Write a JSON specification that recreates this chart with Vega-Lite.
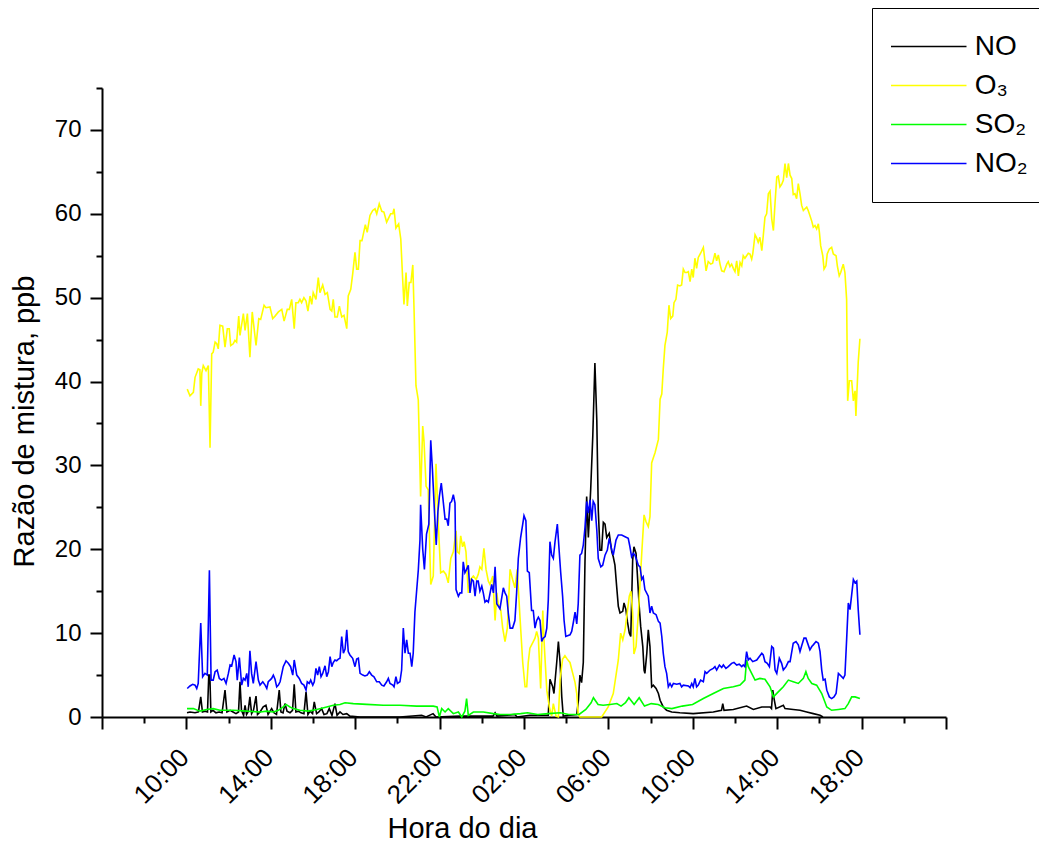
{
"$schema":"https://vega.github.io/schema/vega-lite/v6.json",
"width":844,"height":629,
"autosize":{"type":"none"},
"padding":{"left":102,"top":88,"right":93,"bottom":127},
"background":"white",
"config":{"view":{"stroke":null},"font":"Liberation Sans",
"axis":{"grid":false,"domainColor":"#000","domainWidth":2,"tickColor":"#000","tickWidth":2,"labelColor":"#000","titleColor":"#000","labelFont":"Liberation Sans","titleFont":"Liberation Sans","titleFontWeight":"normal","labelFontSize":24,"titleFontSize":29}},
"data":{"values":[
{"s":"NO","t":10.03,"v":0.5},{"s":"NO","t":10.17,"v":0.6},{"s":"NO","t":10.41,"v":0.5},{"s":"NO","t":10.57,"v":0.6},{"s":"NO","t":10.68,"v":2.4},{"s":"NO","t":10.76,"v":0.6},{"s":"NO","t":10.88,"v":0.7},{"s":"NO","t":11.0,"v":0.6},{"s":"NO","t":11.06,"v":5.0},{"s":"NO","t":11.11,"v":5.0},{"s":"NO","t":11.16,"v":0.6},{"s":"NO","t":11.26,"v":0.8},{"s":"NO","t":11.4,"v":0.5},{"s":"NO","t":11.55,"v":0.6},{"s":"NO","t":11.69,"v":0.5},{"s":"NO","t":11.83,"v":3.2},{"s":"NO","t":11.92,"v":0.6},{"s":"NO","t":12.07,"v":0.8},{"s":"NO","t":12.21,"v":0.6},{"s":"NO","t":12.35,"v":0.4},{"s":"NO","t":12.47,"v":0.6},{"s":"NO","t":12.54,"v":4.2},{"s":"NO","t":12.61,"v":0.8},{"s":"NO","t":12.71,"v":0.2},{"s":"NO","t":12.78,"v":1.4},{"s":"NO","t":12.85,"v":0.3},{"s":"NO","t":12.92,"v":0.6},{"s":"NO","t":13.01,"v":2.4},{"s":"NO","t":13.09,"v":0.4},{"s":"NO","t":13.18,"v":0.8},{"s":"NO","t":13.3,"v":2.5},{"s":"NO","t":13.37,"v":0.3},{"s":"NO","t":13.49,"v":0.6},{"s":"NO","t":13.64,"v":1.2},{"s":"NO","t":13.77,"v":1.4},{"s":"NO","t":13.87,"v":0.3},{"s":"NO","t":14.04,"v":1.0},{"s":"NO","t":14.15,"v":0.5},{"s":"NO","t":14.27,"v":0.3},{"s":"NO","t":14.4,"v":3.2},{"s":"NO","t":14.48,"v":0.6},{"s":"NO","t":14.58,"v":0.5},{"s":"NO","t":14.67,"v":1.6},{"s":"NO","t":14.77,"v":0.7},{"s":"NO","t":14.91,"v":0.5},{"s":"NO","t":15.03,"v":0.8},{"s":"NO","t":15.11,"v":3.9},{"s":"NO","t":15.19,"v":0.6},{"s":"NO","t":15.31,"v":0.7},{"s":"NO","t":15.43,"v":0.5},{"s":"NO","t":15.57,"v":0.4},{"s":"NO","t":15.67,"v":3.0},{"s":"NO","t":15.76,"v":0.3},{"s":"NO","t":15.86,"v":0.7},{"s":"NO","t":15.98,"v":0.4},{"s":"NO","t":16.06,"v":1.8},{"s":"NO","t":16.17,"v":0.4},{"s":"NO","t":16.28,"v":0.6},{"s":"NO","t":16.41,"v":1.0},{"s":"NO","t":16.52,"v":0.3},{"s":"NO","t":16.66,"v":0.4},{"s":"NO","t":16.77,"v":1.0},{"s":"NO","t":16.9,"v":0.2},{"s":"NO","t":17.04,"v":1.6},{"s":"NO","t":17.14,"v":0.2},{"s":"NO","t":17.28,"v":0.6},{"s":"NO","t":17.42,"v":0.3},{"s":"NO","t":17.6,"v":0.4},{"s":"NO","t":17.75,"v":0.1},{"s":"NO","t":18.23,"v":0.0},{"s":"NO","t":20.12,"v":0.0},{"s":"NO","t":21.15,"v":0.2},{"s":"NO","t":21.36,"v":0.0},{"s":"NO","t":21.69,"v":0.4},{"s":"NO","t":21.83,"v":0.0},{"s":"NO","t":22.97,"v":0.1},{"s":"NO","t":24.53,"v":0.1},{"s":"NO","t":24.63,"v":0.5},{"s":"NO","t":24.72,"v":0.1},{"s":"NO","t":25.57,"v":0.3},{"s":"NO","t":25.67,"v":0.0},{"s":"NO","t":26.28,"v":0.2},{"s":"NO","t":27.0,"v":0.2},{"s":"NO","t":27.15,"v":0.2},{"s":"NO","t":27.23,"v":4.5},{"s":"NO","t":27.36,"v":3.6},{"s":"NO","t":27.42,"v":2.8},{"s":"NO","t":27.55,"v":6.5},{"s":"NO","t":27.63,"v":9.0},{"s":"NO","t":27.71,"v":6.5},{"s":"NO","t":27.79,"v":2.4},{"s":"NO","t":27.86,"v":0.1},{"s":"NO","t":28.18,"v":0.2},{"s":"NO","t":28.5,"v":0.3},{"s":"NO","t":28.58,"v":2.0},{"s":"NO","t":28.65,"v":5.0},{"s":"NO","t":28.73,"v":4.1},{"s":"NO","t":28.81,"v":6.5},{"s":"NO","t":28.89,"v":18.5},{"s":"NO","t":28.97,"v":26.3},{"s":"NO","t":29.05,"v":21.4},{"s":"NO","t":29.16,"v":27.1},{"s":"NO","t":29.26,"v":33.5},{"s":"NO","t":29.36,"v":42.2},{"s":"NO","t":29.45,"v":35.4},{"s":"NO","t":29.52,"v":24.7},{"s":"NO","t":29.6,"v":19.9},{"s":"NO","t":29.68,"v":19.9},{"s":"NO","t":29.76,"v":23.2},{"s":"NO","t":29.84,"v":23.0},{"s":"NO","t":29.92,"v":21.4},{"s":"NO","t":30.04,"v":21.9},{"s":"NO","t":30.16,"v":19.7},{"s":"NO","t":30.23,"v":19.1},{"s":"NO","t":30.31,"v":18.1},{"s":"NO","t":30.39,"v":15.6},{"s":"NO","t":30.47,"v":13.2},{"s":"NO","t":30.55,"v":12.4},{"s":"NO","t":30.68,"v":12.6},{"s":"NO","t":30.74,"v":13.6},{"s":"NO","t":30.83,"v":12.8},{"s":"NO","t":30.9,"v":11.4},{"s":"NO","t":30.99,"v":10.0},{"s":"NO","t":31.06,"v":9.6},{"s":"NO","t":31.15,"v":18.7},{"s":"NO","t":31.21,"v":20.3},{"s":"NO","t":31.31,"v":19.5},{"s":"NO","t":31.37,"v":17.1},{"s":"NO","t":31.46,"v":13.2},{"s":"NO","t":31.53,"v":10.8},{"s":"NO","t":31.63,"v":8.4},{"s":"NO","t":31.69,"v":5.6},{"s":"NO","t":31.73,"v":5.2},{"s":"NO","t":31.82,"v":7.6},{"s":"NO","t":31.89,"v":10.4},{"s":"NO","t":31.97,"v":8.4},{"s":"NO","t":32.05,"v":3.6},{"s":"NO","t":32.13,"v":3.8},{"s":"NO","t":32.26,"v":3.4},{"s":"NO","t":32.37,"v":2.8},{"s":"NO","t":32.45,"v":2.0},{"s":"NO","t":32.6,"v":1.2},{"s":"NO","t":32.76,"v":0.8},{"s":"NO","t":33.0,"v":0.6},{"s":"NO","t":33.39,"v":0.5},{"s":"NO","t":34.02,"v":0.4},{"s":"NO","t":34.97,"v":0.6},{"s":"NO","t":35.36,"v":0.8},{"s":"NO","t":35.42,"v":1.6},{"s":"NO","t":35.48,"v":0.8},{"s":"NO","t":35.92,"v":0.9},{"s":"NO","t":36.55,"v":1.3},{"s":"NO","t":36.87,"v":0.9},{"s":"NO","t":37.27,"v":1.2},{"s":"NO","t":37.66,"v":1.2},{"s":"NO","t":37.73,"v":1.0},{"s":"NO","t":37.79,"v":3.2},{"s":"NO","t":37.85,"v":2.2},{"s":"NO","t":37.94,"v":1.0},{"s":"NO","t":38.29,"v":1.4},{"s":"NO","t":38.37,"v":1.0},{"s":"NO","t":38.76,"v":0.9},{"s":"NO","t":39.08,"v":0.8},{"s":"NO","t":39.4,"v":0.6},{"s":"NO","t":39.71,"v":0.4},{"s":"NO","t":40.03,"v":0.2},{"s":"NO","t":40.17,"v":0.0},
{"s":"O₃","t":10.04,"v":39.1},{"s":"O₃","t":10.17,"v":38.3},{"s":"O₃","t":10.33,"v":38.7},{"s":"O₃","t":10.41,"v":40.5},{"s":"O₃","t":10.56,"v":41.5},{"s":"O₃","t":10.64,"v":41.4},{"s":"O₃","t":10.68,"v":37.1},{"s":"O₃","t":10.73,"v":41.0},{"s":"O₃","t":10.8,"v":41.9},{"s":"O₃","t":10.93,"v":41.3},{"s":"O₃","t":11.04,"v":41.9},{"s":"O₃","t":11.12,"v":32.1},{"s":"O₃","t":11.2,"v":43.3},{"s":"O₃","t":11.27,"v":43.5},{"s":"O₃","t":11.36,"v":44.7},{"s":"O₃","t":11.44,"v":44.5},{"s":"O₃","t":11.51,"v":43.9},{"s":"O₃","t":11.59,"v":46.7},{"s":"O₃","t":11.72,"v":46.6},{"s":"O₃","t":11.83,"v":44.1},{"s":"O₃","t":11.94,"v":46.3},{"s":"O₃","t":12.03,"v":46.3},{"s":"O₃","t":12.1,"v":44.3},{"s":"O₃","t":12.22,"v":44.5},{"s":"O₃","t":12.3,"v":44.9},{"s":"O₃","t":12.38,"v":44.7},{"s":"O₃","t":12.48,"v":47.8},{"s":"O₃","t":12.54,"v":45.5},{"s":"O₃","t":12.7,"v":48.1},{"s":"O₃","t":12.78,"v":46.1},{"s":"O₃","t":12.89,"v":48.1},{"s":"O₃","t":13.01,"v":42.9},{"s":"O₃","t":13.12,"v":48.3},{"s":"O₃","t":13.3,"v":44.3},{"s":"O₃","t":13.43,"v":47.5},{"s":"O₃","t":13.52,"v":47.4},{"s":"O₃","t":13.68,"v":49.1},{"s":"O₃","t":13.77,"v":48.8},{"s":"O₃","t":13.96,"v":48.9},{"s":"O₃","t":14.09,"v":47.5},{"s":"O₃","t":14.2,"v":47.8},{"s":"O₃","t":14.36,"v":48.3},{"s":"O₃","t":14.52,"v":48.6},{"s":"O₃","t":14.63,"v":47.2},{"s":"O₃","t":14.78,"v":48.6},{"s":"O₃","t":14.88,"v":48.6},{"s":"O₃","t":14.99,"v":49.8},{"s":"O₃","t":15.11,"v":46.3},{"s":"O₃","t":15.19,"v":49.4},{"s":"O₃","t":15.3,"v":49.4},{"s":"O₃","t":15.38,"v":49.8},{"s":"O₃","t":15.46,"v":49.4},{"s":"O₃","t":15.57,"v":50.0},{"s":"O₃","t":15.67,"v":49.6},{"s":"O₃","t":15.76,"v":48.4},{"s":"O₃","t":15.86,"v":50.2},{"s":"O₃","t":15.94,"v":49.2},{"s":"O₃","t":16.01,"v":50.6},{"s":"O₃","t":16.14,"v":49.8},{"s":"O₃","t":16.25,"v":52.4},{"s":"O₃","t":16.33,"v":50.6},{"s":"O₃","t":16.46,"v":51.5},{"s":"O₃","t":16.57,"v":50.4},{"s":"O₃","t":16.68,"v":50.6},{"s":"O₃","t":16.81,"v":48.6},{"s":"O₃","t":16.89,"v":48.4},{"s":"O₃","t":16.96,"v":49.8},{"s":"O₃","t":17.04,"v":47.7},{"s":"O₃","t":17.15,"v":47.7},{"s":"O₃","t":17.25,"v":49.0},{"s":"O₃","t":17.36,"v":47.7},{"s":"O₃","t":17.47,"v":47.9},{"s":"O₃","t":17.6,"v":46.3},{"s":"O₃","t":17.67,"v":50.2},{"s":"O₃","t":17.79,"v":51.0},{"s":"O₃","t":17.88,"v":52.8},{"s":"O₃","t":17.99,"v":55.4},{"s":"O₃","t":18.07,"v":53.4},{"s":"O₃","t":18.15,"v":53.4},{"s":"O₃","t":18.23,"v":56.8},{"s":"O₃","t":18.32,"v":56.8},{"s":"O₃","t":18.42,"v":58.0},{"s":"O₃","t":18.48,"v":58.7},{"s":"O₃","t":18.57,"v":57.8},{"s":"O₃","t":18.7,"v":59.8},{"s":"O₃","t":18.83,"v":60.4},{"s":"O₃","t":18.94,"v":60.6},{"s":"O₃","t":19.02,"v":60.0},{"s":"O₃","t":19.14,"v":61.2},{"s":"O₃","t":19.26,"v":60.3},{"s":"O₃","t":19.36,"v":60.2},{"s":"O₃","t":19.49,"v":59.0},{"s":"O₃","t":19.68,"v":60.0},{"s":"O₃","t":19.78,"v":60.0},{"s":"O₃","t":19.84,"v":60.6},{"s":"O₃","t":19.93,"v":58.3},{"s":"O₃","t":20.06,"v":58.8},{"s":"O₃","t":20.16,"v":57.0},{"s":"O₃","t":20.25,"v":52.2},{"s":"O₃","t":20.31,"v":49.2},{"s":"O₃","t":20.41,"v":53.0},{"s":"O₃","t":20.47,"v":49.0},{"s":"O₃","t":20.56,"v":51.8},{"s":"O₃","t":20.64,"v":51.8},{"s":"O₃","t":20.73,"v":53.9},{"s":"O₃","t":20.79,"v":48.5},{"s":"O₃","t":20.88,"v":39.5},{"s":"O₃","t":20.99,"v":37.8},{"s":"O₃","t":21.1,"v":26.3},{"s":"O₃","t":21.2,"v":34.7},{"s":"O₃","t":21.26,"v":32.9},{"s":"O₃","t":21.36,"v":27.5},{"s":"O₃","t":21.46,"v":27.1},{"s":"O₃","t":21.58,"v":15.8},{"s":"O₃","t":21.7,"v":16.8},{"s":"O₃","t":21.83,"v":30.2},{"s":"O₃","t":21.94,"v":23.0},{"s":"O₃","t":22.05,"v":17.2},{"s":"O₃","t":22.18,"v":17.4},{"s":"O₃","t":22.3,"v":17.0},{"s":"O₃","t":22.41,"v":16.0},{"s":"O₃","t":22.53,"v":18.9},{"s":"O₃","t":22.65,"v":19.7},{"s":"O₃","t":22.78,"v":22.2},{"s":"O₃","t":22.84,"v":19.7},{"s":"O₃","t":22.93,"v":19.5},{"s":"O₃","t":23.0,"v":21.6},{"s":"O₃","t":23.09,"v":20.3},{"s":"O₃","t":23.16,"v":20.9},{"s":"O₃","t":23.25,"v":19.7},{"s":"O₃","t":23.36,"v":14.8},{"s":"O₃","t":23.47,"v":16.4},{"s":"O₃","t":23.6,"v":16.8},{"s":"O₃","t":23.73,"v":16.4},{"s":"O₃","t":23.83,"v":17.0},{"s":"O₃","t":23.91,"v":17.9},{"s":"O₃","t":24.0,"v":17.6},{"s":"O₃","t":24.1,"v":20.1},{"s":"O₃","t":24.2,"v":17.6},{"s":"O₃","t":24.31,"v":16.2},{"s":"O₃","t":24.39,"v":15.8},{"s":"O₃","t":24.52,"v":16.8},{"s":"O₃","t":24.63,"v":11.5},{"s":"O₃","t":24.71,"v":14.8},{"s":"O₃","t":24.78,"v":13.5},{"s":"O₃","t":24.9,"v":12.7},{"s":"O₃","t":24.99,"v":10.6},{"s":"O₃","t":25.1,"v":9.0},{"s":"O₃","t":25.21,"v":10.6},{"s":"O₃","t":25.34,"v":17.6},{"s":"O₃","t":25.46,"v":16.4},{"s":"O₃","t":25.57,"v":15.4},{"s":"O₃","t":25.68,"v":17.6},{"s":"O₃","t":25.81,"v":11.9},{"s":"O₃","t":25.94,"v":6.5},{"s":"O₃","t":26.05,"v":3.6},{"s":"O₃","t":26.13,"v":3.6},{"s":"O₃","t":26.2,"v":6.5},{"s":"O₃","t":26.28,"v":8.2},{"s":"O₃","t":26.36,"v":8.6},{"s":"O₃","t":26.44,"v":9.0},{"s":"O₃","t":26.52,"v":9.4},{"s":"O₃","t":26.6,"v":10.2},{"s":"O₃","t":26.68,"v":9.4},{"s":"O₃","t":26.79,"v":3.4},{"s":"O₃","t":26.89,"v":12.7},{"s":"O₃","t":26.96,"v":8.6},{"s":"O₃","t":27.08,"v":3.2},{"s":"O₃","t":27.2,"v":1.2},{"s":"O₃","t":27.31,"v":0.1},{"s":"O₃","t":27.39,"v":1.6},{"s":"O₃","t":27.52,"v":0.1},{"s":"O₃","t":27.63,"v":0.0},{"s":"O₃","t":27.71,"v":4.5},{"s":"O₃","t":27.83,"v":6.9},{"s":"O₃","t":27.94,"v":7.3},{"s":"O₃","t":28.05,"v":6.9},{"s":"O₃","t":28.18,"v":6.5},{"s":"O₃","t":28.26,"v":5.7},{"s":"O₃","t":28.34,"v":4.9},{"s":"O₃","t":28.42,"v":4.1},{"s":"O₃","t":28.5,"v":2.8},{"s":"O₃","t":28.57,"v":0.3},{"s":"O₃","t":28.65,"v":0.0},{"s":"O₃","t":28.94,"v":0.0},{"s":"O₃","t":29.22,"v":0.0},{"s":"O₃","t":29.41,"v":0.0},{"s":"O₃","t":29.68,"v":0.0},{"s":"O₃","t":29.99,"v":1.2},{"s":"O₃","t":30.23,"v":2.8},{"s":"O₃","t":30.47,"v":6.8},{"s":"O₃","t":30.58,"v":10.0},{"s":"O₃","t":30.68,"v":9.2},{"s":"O₃","t":30.79,"v":10.4},{"s":"O₃","t":30.87,"v":12.0},{"s":"O₃","t":30.99,"v":14.4},{"s":"O₃","t":31.07,"v":15.0},{"s":"O₃","t":31.15,"v":12.4},{"s":"O₃","t":31.21,"v":7.5},{"s":"O₃","t":31.31,"v":8.4},{"s":"O₃","t":31.42,"v":12.4},{"s":"O₃","t":31.58,"v":19.5},{"s":"O₃","t":31.69,"v":24.1},{"s":"O₃","t":31.78,"v":23.3},{"s":"O₃","t":31.89,"v":22.7},{"s":"O₃","t":31.97,"v":23.9},{"s":"O₃","t":32.05,"v":30.3},{"s":"O₃","t":32.13,"v":30.9},{"s":"O₃","t":32.21,"v":31.5},{"s":"O₃","t":32.37,"v":33.1},{"s":"O₃","t":32.45,"v":37.9},{"s":"O₃","t":32.53,"v":38.5},{"s":"O₃","t":32.6,"v":41.5},{"s":"O₃","t":32.68,"v":44.3},{"s":"O₃","t":32.79,"v":45.9},{"s":"O₃","t":32.87,"v":49.1},{"s":"O₃","t":32.95,"v":47.5},{"s":"O₃","t":33.05,"v":47.8},{"s":"O₃","t":33.11,"v":49.4},{"s":"O₃","t":33.2,"v":49.8},{"s":"O₃","t":33.28,"v":51.5},{"s":"O₃","t":33.39,"v":51.4},{"s":"O₃","t":33.47,"v":51.5},{"s":"O₃","t":33.55,"v":53.4},{"s":"O₃","t":33.63,"v":53.0},{"s":"O₃","t":33.71,"v":53.0},{"s":"O₃","t":33.79,"v":53.1},{"s":"O₃","t":33.87,"v":51.9},{"s":"O₃","t":33.95,"v":53.4},{"s":"O₃","t":34.02,"v":52.4},{"s":"O₃","t":34.1,"v":54.7},{"s":"O₃","t":34.18,"v":53.5},{"s":"O₃","t":34.26,"v":54.8},{"s":"O₃","t":34.37,"v":55.3},{"s":"O₃","t":34.5,"v":56.0},{"s":"O₃","t":34.63,"v":53.2},{"s":"O₃","t":34.73,"v":54.3},{"s":"O₃","t":34.85,"v":54.0},{"s":"O₃","t":34.94,"v":54.1},{"s":"O₃","t":35.05,"v":55.3},{"s":"O₃","t":35.13,"v":54.4},{"s":"O₃","t":35.21,"v":55.1},{"s":"O₃","t":35.29,"v":54.0},{"s":"O₃","t":35.37,"v":53.2},{"s":"O₃","t":35.48,"v":53.1},{"s":"O₃","t":35.61,"v":54.0},{"s":"O₃","t":35.68,"v":54.3},{"s":"O₃","t":35.76,"v":53.7},{"s":"O₃","t":35.84,"v":54.0},{"s":"O₃","t":35.92,"v":53.5},{"s":"O₃","t":36.0,"v":53.1},{"s":"O₃","t":36.08,"v":54.4},{"s":"O₃","t":36.16,"v":52.6},{"s":"O₃","t":36.24,"v":54.2},{"s":"O₃","t":36.32,"v":53.8},{"s":"O₃","t":36.39,"v":55.0},{"s":"O₃","t":36.47,"v":54.7},{"s":"O₃","t":36.55,"v":55.0},{"s":"O₃","t":36.63,"v":55.3},{"s":"O₃","t":36.71,"v":55.2},{"s":"O₃","t":36.79,"v":54.6},{"s":"O₃","t":36.84,"v":55.2},{"s":"O₃","t":36.95,"v":57.5},{"s":"O₃","t":37.03,"v":57.1},{"s":"O₃","t":37.1,"v":56.6},{"s":"O₃","t":37.18,"v":57.2},{"s":"O₃","t":37.27,"v":55.6},{"s":"O₃","t":37.34,"v":57.4},{"s":"O₃","t":37.42,"v":59.6},{"s":"O₃","t":37.5,"v":60.0},{"s":"O₃","t":37.58,"v":62.4},{"s":"O₃","t":37.66,"v":62.7},{"s":"O₃","t":37.74,"v":59.4},{"s":"O₃","t":37.82,"v":58.0},{"s":"O₃","t":37.9,"v":61.4},{"s":"O₃","t":37.98,"v":64.4},{"s":"O₃","t":38.05,"v":64.5},{"s":"O₃","t":38.13,"v":63.2},{"s":"O₃","t":38.21,"v":63.5},{"s":"O₃","t":38.29,"v":64.0},{"s":"O₃","t":38.37,"v":66.0},{"s":"O₃","t":38.45,"v":64.3},{"s":"O₃","t":38.53,"v":66.0},{"s":"O₃","t":38.61,"v":64.6},{"s":"O₃","t":38.69,"v":64.2},{"s":"O₃","t":38.76,"v":62.3},{"s":"O₃","t":38.84,"v":62.4},{"s":"O₃","t":38.92,"v":61.8},{"s":"O₃","t":39.0,"v":63.6},{"s":"O₃","t":39.08,"v":62.4},{"s":"O₃","t":39.16,"v":61.0},{"s":"O₃","t":39.24,"v":60.4},{"s":"O₃","t":39.32,"v":60.6},{"s":"O₃","t":39.4,"v":60.8},{"s":"O₃","t":39.47,"v":60.4},{"s":"O₃","t":39.55,"v":59.8},{"s":"O₃","t":39.64,"v":59.1},{"s":"O₃","t":39.71,"v":58.4},{"s":"O₃","t":39.79,"v":58.6},{"s":"O₃","t":39.87,"v":58.2},{"s":"O₃","t":39.95,"v":58.8},{"s":"O₃","t":40.0,"v":57.8},{"s":"O₃","t":40.06,"v":56.2},{"s":"O₃","t":40.16,"v":55.0},{"s":"O₃","t":40.22,"v":53.4},{"s":"O₃","t":40.31,"v":53.8},{"s":"O₃","t":40.37,"v":55.2},{"s":"O₃","t":40.47,"v":55.8},{"s":"O₃","t":40.58,"v":56.0},{"s":"O₃","t":40.66,"v":55.2},{"s":"O₃","t":40.79,"v":55.0},{"s":"O₃","t":40.85,"v":53.8},{"s":"O₃","t":40.94,"v":52.6},{"s":"O₃","t":41.01,"v":53.0},{"s":"O₃","t":41.13,"v":54.0},{"s":"O₃","t":41.21,"v":53.0},{"s":"O₃","t":41.29,"v":49.8},{"s":"O₃","t":41.34,"v":37.7},{"s":"O₃","t":41.42,"v":40.1},{"s":"O₃","t":41.53,"v":40.1},{"s":"O₃","t":41.61,"v":37.7},{"s":"O₃","t":41.69,"v":38.9},{"s":"O₃","t":41.73,"v":35.9},{"s":"O₃","t":41.84,"v":42.3},{"s":"O₃","t":41.92,"v":45.1},
{"s":"SO₂","t":10.03,"v":1.0},{"s":"SO₂","t":10.33,"v":1.0},{"s":"SO₂","t":10.64,"v":0.7},{"s":"SO₂","t":10.96,"v":0.9},{"s":"SO₂","t":11.27,"v":1.0},{"s":"SO₂","t":11.59,"v":0.8},{"s":"SO₂","t":12.22,"v":0.8},{"s":"SO₂","t":12.86,"v":0.7},{"s":"SO₂","t":13.49,"v":0.6},{"s":"SO₂","t":13.81,"v":0.7},{"s":"SO₂","t":14.12,"v":0.6},{"s":"SO₂","t":14.36,"v":0.8},{"s":"SO₂","t":14.59,"v":1.2},{"s":"SO₂","t":14.72,"v":1.5},{"s":"SO₂","t":14.91,"v":1.2},{"s":"SO₂","t":15.07,"v":1.0},{"s":"SO₂","t":15.38,"v":0.8},{"s":"SO₂","t":15.78,"v":0.7},{"s":"SO₂","t":16.18,"v":0.9},{"s":"SO₂","t":16.65,"v":1.2},{"s":"SO₂","t":16.96,"v":1.4},{"s":"SO₂","t":17.28,"v":1.5},{"s":"SO₂","t":17.52,"v":1.7},{"s":"SO₂","t":17.91,"v":1.6},{"s":"SO₂","t":18.55,"v":1.5},{"s":"SO₂","t":19.33,"v":1.4},{"s":"SO₂","t":20.12,"v":1.4},{"s":"SO₂","t":20.91,"v":1.3},{"s":"SO₂","t":21.7,"v":1.3},{"s":"SO₂","t":21.88,"v":1.2},{"s":"SO₂","t":21.99,"v":0.0},{"s":"SO₂","t":22.1,"v":1.0},{"s":"SO₂","t":22.26,"v":0.6},{"s":"SO₂","t":22.41,"v":1.0},{"s":"SO₂","t":22.65,"v":0.4},{"s":"SO₂","t":22.89,"v":0.6},{"s":"SO₂","t":23.05,"v":0.0},{"s":"SO₂","t":23.2,"v":0.7},{"s":"SO₂","t":23.28,"v":2.2},{"s":"SO₂","t":23.36,"v":0.2},{"s":"SO₂","t":23.6,"v":0.6},{"s":"SO₂","t":24.07,"v":0.6},{"s":"SO₂","t":24.55,"v":0.4},{"s":"SO₂","t":24.86,"v":0.3},{"s":"SO₂","t":25.35,"v":0.3},{"s":"SO₂","t":25.84,"v":0.4},{"s":"SO₂","t":26.17,"v":0.5},{"s":"SO₂","t":26.65,"v":0.3},{"s":"SO₂","t":27.14,"v":0.4},{"s":"SO₂","t":27.72,"v":0.5},{"s":"SO₂","t":28.12,"v":0.3},{"s":"SO₂","t":28.61,"v":0.3},{"s":"SO₂","t":28.93,"v":0.9},{"s":"SO₂","t":29.18,"v":1.7},{"s":"SO₂","t":29.29,"v":2.3},{"s":"SO₂","t":29.51,"v":1.5},{"s":"SO₂","t":29.75,"v":1.4},{"s":"SO₂","t":30.08,"v":1.5},{"s":"SO₂","t":30.4,"v":1.6},{"s":"SO₂","t":30.6,"v":1.3},{"s":"SO₂","t":30.81,"v":1.7},{"s":"SO₂","t":30.97,"v":2.3},{"s":"SO₂","t":31.22,"v":1.5},{"s":"SO₂","t":31.46,"v":2.3},{"s":"SO₂","t":31.71,"v":1.3},{"s":"SO₂","t":32.03,"v":1.6},{"s":"SO₂","t":32.36,"v":1.5},{"s":"SO₂","t":32.68,"v":1.1},{"s":"SO₂","t":33.01,"v":1.0},{"s":"SO₂","t":33.5,"v":1.3},{"s":"SO₂","t":33.99,"v":1.5},{"s":"SO₂","t":34.5,"v":2.2},{"s":"SO₂","t":34.97,"v":2.8},{"s":"SO₂","t":35.45,"v":3.4},{"s":"SO₂","t":35.92,"v":3.6},{"s":"SO₂","t":36.24,"v":3.8},{"s":"SO₂","t":36.47,"v":4.4},{"s":"SO₂","t":36.55,"v":6.8},{"s":"SO₂","t":36.63,"v":6.0},{"s":"SO₂","t":36.79,"v":5.2},{"s":"SO₂","t":36.95,"v":4.4},{"s":"SO₂","t":37.18,"v":4.6},{"s":"SO₂","t":37.42,"v":4.5},{"s":"SO₂","t":37.66,"v":3.6},{"s":"SO₂","t":37.82,"v":2.4},{"s":"SO₂","t":38.05,"v":3.0},{"s":"SO₂","t":38.29,"v":3.6},{"s":"SO₂","t":38.53,"v":4.4},{"s":"SO₂","t":38.76,"v":4.2},{"s":"SO₂","t":39.0,"v":4.0},{"s":"SO₂","t":39.24,"v":4.6},{"s":"SO₂","t":39.36,"v":5.4},{"s":"SO₂","t":39.47,"v":4.6},{"s":"SO₂","t":39.64,"v":4.0},{"s":"SO₂","t":39.87,"v":3.8},{"s":"SO₂","t":40.11,"v":2.8},{"s":"SO₂","t":40.35,"v":1.2},{"s":"SO₂","t":40.58,"v":0.8},{"s":"SO₂","t":40.9,"v":0.9},{"s":"SO₂","t":41.21,"v":1.0},{"s":"SO₂","t":41.37,"v":1.6},{"s":"SO₂","t":41.53,"v":2.4},{"s":"SO₂","t":41.69,"v":2.4},{"s":"SO₂","t":41.92,"v":2.2},
{"s":"NO₂","t":10.04,"v":3.4},{"s":"NO₂","t":10.17,"v":3.7},{"s":"NO₂","t":10.3,"v":3.9},{"s":"NO₂","t":10.41,"v":3.8},{"s":"NO₂","t":10.49,"v":3.4},{"s":"NO₂","t":10.56,"v":4.0},{"s":"NO₂","t":10.68,"v":11.2},{"s":"NO₂","t":10.77,"v":4.8},{"s":"NO₂","t":10.88,"v":5.2},{"s":"NO₂","t":10.99,"v":5.0},{"s":"NO₂","t":11.09,"v":17.5},{"s":"NO₂","t":11.17,"v":4.4},{"s":"NO₂","t":11.27,"v":4.4},{"s":"NO₂","t":11.36,"v":5.4},{"s":"NO₂","t":11.46,"v":5.6},{"s":"NO₂","t":11.56,"v":4.6},{"s":"NO₂","t":11.67,"v":4.4},{"s":"NO₂","t":11.78,"v":4.6},{"s":"NO₂","t":11.88,"v":4.0},{"s":"NO₂","t":11.99,"v":5.2},{"s":"NO₂","t":12.07,"v":6.2},{"s":"NO₂","t":12.15,"v":6.1},{"s":"NO₂","t":12.26,"v":7.4},{"s":"NO₂","t":12.35,"v":6.6},{"s":"NO₂","t":12.41,"v":4.4},{"s":"NO₂","t":12.51,"v":7.1},{"s":"NO₂","t":12.62,"v":3.8},{"s":"NO₂","t":12.7,"v":4.6},{"s":"NO₂","t":12.78,"v":4.4},{"s":"NO₂","t":12.86,"v":5.2},{"s":"NO₂","t":12.93,"v":3.6},{"s":"NO₂","t":13.01,"v":7.9},{"s":"NO₂","t":13.09,"v":5.2},{"s":"NO₂","t":13.17,"v":4.0},{"s":"NO₂","t":13.3,"v":6.6},{"s":"NO₂","t":13.41,"v":4.4},{"s":"NO₂","t":13.49,"v":3.8},{"s":"NO₂","t":13.62,"v":4.2},{"s":"NO₂","t":13.73,"v":3.8},{"s":"NO₂","t":13.81,"v":3.4},{"s":"NO₂","t":13.88,"v":4.2},{"s":"NO₂","t":13.96,"v":4.4},{"s":"NO₂","t":14.04,"v":4.6},{"s":"NO₂","t":14.12,"v":5.0},{"s":"NO₂","t":14.2,"v":4.5},{"s":"NO₂","t":14.28,"v":3.6},{"s":"NO₂","t":14.36,"v":3.8},{"s":"NO₂","t":14.44,"v":4.2},{"s":"NO₂","t":14.59,"v":6.0},{"s":"NO₂","t":14.72,"v":6.7},{"s":"NO₂","t":14.83,"v":6.4},{"s":"NO₂","t":14.94,"v":6.0},{"s":"NO₂","t":15.04,"v":5.0},{"s":"NO₂","t":15.11,"v":6.8},{"s":"NO₂","t":15.23,"v":5.0},{"s":"NO₂","t":15.35,"v":4.6},{"s":"NO₂","t":15.46,"v":4.0},{"s":"NO₂","t":15.57,"v":3.8},{"s":"NO₂","t":15.67,"v":3.2},{"s":"NO₂","t":15.73,"v":4.2},{"s":"NO₂","t":15.82,"v":4.0},{"s":"NO₂","t":15.89,"v":4.4},{"s":"NO₂","t":15.99,"v":3.8},{"s":"NO₂","t":16.06,"v":4.2},{"s":"NO₂","t":16.14,"v":5.8},{"s":"NO₂","t":16.22,"v":5.0},{"s":"NO₂","t":16.3,"v":6.0},{"s":"NO₂","t":16.38,"v":4.8},{"s":"NO₂","t":16.46,"v":5.2},{"s":"NO₂","t":16.57,"v":6.1},{"s":"NO₂","t":16.65,"v":4.8},{"s":"NO₂","t":16.73,"v":5.4},{"s":"NO₂","t":16.81,"v":7.2},{"s":"NO₂","t":16.89,"v":6.0},{"s":"NO₂","t":16.96,"v":6.5},{"s":"NO₂","t":17.04,"v":6.8},{"s":"NO₂","t":17.12,"v":6.7},{"s":"NO₂","t":17.2,"v":6.9},{"s":"NO₂","t":17.28,"v":7.0},{"s":"NO₂","t":17.36,"v":9.6},{"s":"NO₂","t":17.44,"v":7.6},{"s":"NO₂","t":17.52,"v":8.1},{"s":"NO₂","t":17.6,"v":10.4},{"s":"NO₂","t":17.67,"v":7.8},{"s":"NO₂","t":17.75,"v":7.4},{"s":"NO₂","t":17.88,"v":7.0},{"s":"NO₂","t":17.99,"v":6.0},{"s":"NO₂","t":18.07,"v":6.9},{"s":"NO₂","t":18.15,"v":7.0},{"s":"NO₂","t":18.23,"v":5.2},{"s":"NO₂","t":18.36,"v":5.0},{"s":"NO₂","t":18.46,"v":4.9},{"s":"NO₂","t":18.57,"v":5.0},{"s":"NO₂","t":18.67,"v":5.4},{"s":"NO₂","t":18.78,"v":5.0},{"s":"NO₂","t":18.89,"v":4.8},{"s":"NO₂","t":19.02,"v":4.2},{"s":"NO₂","t":19.14,"v":4.2},{"s":"NO₂","t":19.26,"v":3.8},{"s":"NO₂","t":19.36,"v":3.7},{"s":"NO₂","t":19.49,"v":4.2},{"s":"NO₂","t":19.57,"v":4.6},{"s":"NO₂","t":19.65,"v":4.0},{"s":"NO₂","t":19.78,"v":3.8},{"s":"NO₂","t":19.84,"v":3.6},{"s":"NO₂","t":19.93,"v":4.8},{"s":"NO₂","t":20.0,"v":4.0},{"s":"NO₂","t":20.12,"v":4.2},{"s":"NO₂","t":20.2,"v":5.6},{"s":"NO₂","t":20.28,"v":10.6},{"s":"NO₂","t":20.36,"v":7.6},{"s":"NO₂","t":20.44,"v":9.2},{"s":"NO₂","t":20.52,"v":7.6},{"s":"NO₂","t":20.6,"v":7.6},{"s":"NO₂","t":20.68,"v":6.0},{"s":"NO₂","t":20.75,"v":7.6},{"s":"NO₂","t":20.83,"v":12.5},{"s":"NO₂","t":20.91,"v":15.0},{"s":"NO₂","t":20.99,"v":17.5},{"s":"NO₂","t":21.07,"v":21.1},{"s":"NO₂","t":21.1,"v":25.3},{"s":"NO₂","t":21.2,"v":20.0},{"s":"NO₂","t":21.28,"v":17.6},{"s":"NO₂","t":21.38,"v":21.8},{"s":"NO₂","t":21.49,"v":23.0},{"s":"NO₂","t":21.58,"v":33.0},{"s":"NO₂","t":21.66,"v":29.5},{"s":"NO₂","t":21.76,"v":24.3},{"s":"NO₂","t":21.84,"v":20.5},{"s":"NO₂","t":21.92,"v":24.5},{"s":"NO₂","t":21.99,"v":26.3},{"s":"NO₂","t":22.08,"v":27.9},{"s":"NO₂","t":22.18,"v":25.5},{"s":"NO₂","t":22.26,"v":23.6},{"s":"NO₂","t":22.34,"v":23.6},{"s":"NO₂","t":22.41,"v":22.8},{"s":"NO₂","t":22.49,"v":25.5},{"s":"NO₂","t":22.57,"v":25.7},{"s":"NO₂","t":22.65,"v":26.5},{"s":"NO₂","t":22.73,"v":25.5},{"s":"NO₂","t":22.78,"v":15.2},{"s":"NO₂","t":22.89,"v":14.4},{"s":"NO₂","t":22.97,"v":14.8},{"s":"NO₂","t":23.05,"v":14.8},{"s":"NO₂","t":23.12,"v":18.5},{"s":"NO₂","t":23.2,"v":17.2},{"s":"NO₂","t":23.28,"v":17.6},{"s":"NO₂","t":23.36,"v":18.1},{"s":"NO₂","t":23.44,"v":14.8},{"s":"NO₂","t":23.52,"v":16.4},{"s":"NO₂","t":23.6,"v":16.2},{"s":"NO₂","t":23.68,"v":14.4},{"s":"NO₂","t":23.76,"v":16.2},{"s":"NO₂","t":23.83,"v":16.2},{"s":"NO₂","t":23.91,"v":15.0},{"s":"NO₂","t":24.0,"v":15.6},{"s":"NO₂","t":24.07,"v":14.8},{"s":"NO₂","t":24.15,"v":13.7},{"s":"NO₂","t":24.23,"v":13.9},{"s":"NO₂","t":24.31,"v":13.7},{"s":"NO₂","t":24.47,"v":15.8},{"s":"NO₂","t":24.55,"v":14.8},{"s":"NO₂","t":24.63,"v":17.9},{"s":"NO₂","t":24.71,"v":13.5},{"s":"NO₂","t":24.86,"v":12.9},{"s":"NO₂","t":25.02,"v":15.4},{"s":"NO₂","t":25.1,"v":14.8},{"s":"NO₂","t":25.18,"v":14.4},{"s":"NO₂","t":25.26,"v":12.3},{"s":"NO₂","t":25.34,"v":10.6},{"s":"NO₂","t":25.46,"v":10.6},{"s":"NO₂","t":25.57,"v":11.5},{"s":"NO₂","t":25.65,"v":14.8},{"s":"NO₂","t":25.73,"v":18.9},{"s":"NO₂","t":25.84,"v":21.4},{"s":"NO₂","t":25.94,"v":23.0},{"s":"NO₂","t":26.0,"v":24.0},{"s":"NO₂","t":26.09,"v":23.4},{"s":"NO₂","t":26.16,"v":17.4},{"s":"NO₂","t":26.25,"v":17.2},{"s":"NO₂","t":26.36,"v":12.7},{"s":"NO₂","t":26.44,"v":12.7},{"s":"NO₂","t":26.52,"v":10.6},{"s":"NO₂","t":26.6,"v":11.5},{"s":"NO₂","t":26.68,"v":11.9},{"s":"NO₂","t":26.76,"v":11.5},{"s":"NO₂","t":26.84,"v":9.0},{"s":"NO₂","t":26.91,"v":9.4},{"s":"NO₂","t":27.0,"v":9.6},{"s":"NO₂","t":27.08,"v":10.6},{"s":"NO₂","t":27.15,"v":13.9},{"s":"NO₂","t":27.23,"v":20.9},{"s":"NO₂","t":27.31,"v":19.3},{"s":"NO₂","t":27.39,"v":18.9},{"s":"NO₂","t":27.47,"v":20.9},{"s":"NO₂","t":27.58,"v":23.0},{"s":"NO₂","t":27.67,"v":19.7},{"s":"NO₂","t":27.74,"v":17.2},{"s":"NO₂","t":27.83,"v":14.4},{"s":"NO₂","t":27.9,"v":11.5},{"s":"NO₂","t":27.98,"v":9.6},{"s":"NO₂","t":28.18,"v":9.8},{"s":"NO₂","t":28.26,"v":10.2},{"s":"NO₂","t":28.34,"v":11.3},{"s":"NO₂","t":28.42,"v":12.5},{"s":"NO₂","t":28.5,"v":11.1},{"s":"NO₂","t":28.57,"v":13.5},{"s":"NO₂","t":28.65,"v":19.3},{"s":"NO₂","t":28.73,"v":19.5},{"s":"NO₂","t":28.81,"v":20.5},{"s":"NO₂","t":28.89,"v":22.6},{"s":"NO₂","t":28.97,"v":25.7},{"s":"NO₂","t":29.05,"v":24.3},{"s":"NO₂","t":29.13,"v":25.9},{"s":"NO₂","t":29.21,"v":23.4},{"s":"NO₂","t":29.28,"v":25.7},{"s":"NO₂","t":29.36,"v":25.3},{"s":"NO₂","t":29.45,"v":22.3},{"s":"NO₂","t":29.52,"v":18.9},{"s":"NO₂","t":29.64,"v":17.9},{"s":"NO₂","t":29.73,"v":18.1},{"s":"NO₂","t":29.84,"v":19.3},{"s":"NO₂","t":29.95,"v":19.9},{"s":"NO₂","t":30.04,"v":21.3},{"s":"NO₂","t":30.16,"v":19.9},{"s":"NO₂","t":30.23,"v":19.3},{"s":"NO₂","t":30.36,"v":21.1},{"s":"NO₂","t":30.47,"v":21.7},{"s":"NO₂","t":30.63,"v":21.7},{"s":"NO₂","t":30.79,"v":21.5},{"s":"NO₂","t":30.94,"v":21.3},{"s":"NO₂","t":31.02,"v":20.3},{"s":"NO₂","t":31.1,"v":19.1},{"s":"NO₂","t":31.18,"v":19.5},{"s":"NO₂","t":31.26,"v":19.3},{"s":"NO₂","t":31.42,"v":18.1},{"s":"NO₂","t":31.5,"v":17.9},{"s":"NO₂","t":31.58,"v":16.4},{"s":"NO₂","t":31.65,"v":16.7},{"s":"NO₂","t":31.73,"v":15.2},{"s":"NO₂","t":31.89,"v":14.4},{"s":"NO₂","t":31.97,"v":12.4},{"s":"NO₂","t":32.05,"v":13.2},{"s":"NO₂","t":32.13,"v":12.4},{"s":"NO₂","t":32.26,"v":12.2},{"s":"NO₂","t":32.37,"v":11.4},{"s":"NO₂","t":32.45,"v":11.2},{"s":"NO₂","t":32.53,"v":9.6},{"s":"NO₂","t":32.6,"v":7.6},{"s":"NO₂","t":32.68,"v":6.0},{"s":"NO₂","t":32.76,"v":5.2},{"s":"NO₂","t":32.84,"v":3.6},{"s":"NO₂","t":32.92,"v":4.0},{"s":"NO₂","t":33.0,"v":3.6},{"s":"NO₂","t":33.08,"v":4.0},{"s":"NO₂","t":33.24,"v":3.9},{"s":"NO₂","t":33.39,"v":4.0},{"s":"NO₂","t":33.47,"v":3.6},{"s":"NO₂","t":33.55,"v":3.8},{"s":"NO₂","t":33.79,"v":3.7},{"s":"NO₂","t":33.87,"v":3.5},{"s":"NO₂","t":33.95,"v":4.0},{"s":"NO₂","t":34.02,"v":3.6},{"s":"NO₂","t":34.1,"v":4.6},{"s":"NO₂","t":34.18,"v":3.6},{"s":"NO₂","t":34.26,"v":3.8},{"s":"NO₂","t":34.37,"v":4.4},{"s":"NO₂","t":34.5,"v":4.2},{"s":"NO₂","t":34.58,"v":5.4},{"s":"NO₂","t":34.66,"v":5.2},{"s":"NO₂","t":34.82,"v":5.6},{"s":"NO₂","t":34.97,"v":5.8},{"s":"NO₂","t":35.05,"v":6.0},{"s":"NO₂","t":35.13,"v":5.6},{"s":"NO₂","t":35.26,"v":6.2},{"s":"NO₂","t":35.37,"v":5.9},{"s":"NO₂","t":35.45,"v":6.2},{"s":"NO₂","t":35.57,"v":5.8},{"s":"NO₂","t":35.68,"v":6.0},{"s":"NO₂","t":35.84,"v":6.4},{"s":"NO₂","t":35.95,"v":6.5},{"s":"NO₂","t":36.08,"v":6.2},{"s":"NO₂","t":36.2,"v":6.3},{"s":"NO₂","t":36.32,"v":6.0},{"s":"NO₂","t":36.39,"v":6.2},{"s":"NO₂","t":36.47,"v":6.0},{"s":"NO₂","t":36.55,"v":7.8},{"s":"NO₂","t":36.63,"v":6.8},{"s":"NO₂","t":36.71,"v":7.0},{"s":"NO₂","t":36.84,"v":6.6},{"s":"NO₂","t":37.03,"v":6.8},{"s":"NO₂","t":37.27,"v":7.6},{"s":"NO₂","t":37.34,"v":7.4},{"s":"NO₂","t":37.42,"v":6.6},{"s":"NO₂","t":37.53,"v":6.4},{"s":"NO₂","t":37.63,"v":6.0},{"s":"NO₂","t":37.74,"v":8.4},{"s":"NO₂","t":37.82,"v":8.2},{"s":"NO₂","t":37.9,"v":5.6},{"s":"NO₂","t":37.98,"v":5.2},{"s":"NO₂","t":38.1,"v":7.0},{"s":"NO₂","t":38.21,"v":6.4},{"s":"NO₂","t":38.29,"v":5.6},{"s":"NO₂","t":38.42,"v":6.0},{"s":"NO₂","t":38.53,"v":6.6},{"s":"NO₂","t":38.61,"v":6.6},{"s":"NO₂","t":38.76,"v":8.8},{"s":"NO₂","t":38.89,"v":9.0},{"s":"NO₂","t":39.0,"v":8.6},{"s":"NO₂","t":39.08,"v":7.8},{"s":"NO₂","t":39.16,"v":8.5},{"s":"NO₂","t":39.27,"v":9.4},{"s":"NO₂","t":39.36,"v":9.4},{"s":"NO₂","t":39.47,"v":8.6},{"s":"NO₂","t":39.55,"v":8.0},{"s":"NO₂","t":39.64,"v":8.4},{"s":"NO₂","t":39.71,"v":8.6},{"s":"NO₂","t":39.84,"v":9.0},{"s":"NO₂","t":39.95,"v":8.8},{"s":"NO₂","t":40.03,"v":7.8},{"s":"NO₂","t":40.11,"v":5.6},{"s":"NO₂","t":40.18,"v":4.4},{"s":"NO₂","t":40.27,"v":4.5},{"s":"NO₂","t":40.35,"v":3.2},{"s":"NO₂","t":40.47,"v":2.4},{"s":"NO₂","t":40.58,"v":2.2},{"s":"NO₂","t":40.69,"v":2.4},{"s":"NO₂","t":40.79,"v":2.8},{"s":"NO₂","t":40.9,"v":5.2},{"s":"NO₂","t":40.98,"v":5.0},{"s":"NO₂","t":41.13,"v":4.6},{"s":"NO₂","t":41.21,"v":5.0},{"s":"NO₂","t":41.29,"v":9.2},{"s":"NO₂","t":41.37,"v":13.6},{"s":"NO₂","t":41.45,"v":12.8},{"s":"NO₂","t":41.53,"v":14.6},{"s":"NO₂","t":41.61,"v":16.4},{"s":"NO₂","t":41.69,"v":16.0},{"s":"NO₂","t":41.77,"v":16.2},{"s":"NO₂","t":41.84,"v":12.8},{"s":"NO₂","t":41.92,"v":9.8}
]},
"layer":[
{"mark":{"type":"line","strokeWidth":1.6,"interpolate":"linear"},
"encoding":{
"x":{"field":"t","type":"quantitative","scale":{"domain":[6,46],"nice":false,"zero":false},
"axis":{"orient":"bottom","values":[6,10,14,18,22,26,30,34,38,42,46],"tickSize":12,"labelFontSize":26,"labelAngle":-45,"labelAlign":"right","labelBaseline":"middle","labelPadding":24,"labelOffset":-2,"labelFlush":false,"labelOverlap":false,"labelBound":false,
"labelExpr":"datum.value == 6 || datum.value == 46 ? '' : ((datum.value % 24) < 10 ? '0' : '') + (datum.value % 24) + ':00'",
"title":"Hora do dia","titleX":360,"titleY":120,"titleAlign":"center","titleBaseline":"alphabetic"}},
"y":{"field":"v","type":"quantitative","scale":{"domain":[0,75],"nice":false,"zero":true},
"axis":{"orient":"left","values":[0,10,20,30,40,50,60,70],"tickSize":12,"labelPadding":9,"labelFlush":false,"labelOverlap":false,"labelBound":false,
"title":"Razão de mistura, ppb","titleX":-69,"titleY":333,"titleAngle":-90,"titleAlign":"center","titleBaseline":"alphabetic"}},
"color":{"field":"s","type":"nominal","scale":{"domain":["NO","O₃","SO₂","NO₂"],"range":["#000000","#ffff00","#00ff00","#0000ff"]},
"legend":{"orient":"none","legendX":770,"legendY":-80,"title":null,"strokeColor":"#000","padding":19,"clipHeight":39,"rowPadding":0,
"symbolType":"M-5,0H5","symbolSize":228,"symbolStrokeWidth":1.6,"symbolOffset":23.75,"labelOffset":32,"labelFontSize":28,"labelFont":"Liberation Sans","labelColor":"#000","labelLimit":300}}
}},
{"mark":{"type":"point","opacity":0,"size":0},
"encoding":{
"x":{"field":"t","type":"quantitative","axis":{"orient":"bottom","values":[8,12,16,20,24,28,32,36,40,44],"tickSize":6,"labels":false,"domain":false,"title":null}},
"y":{"field":"v","type":"quantitative","axis":{"orient":"left","values":[5,15,25,35,45,55,65,75],"tickSize":6,"labels":false,"domain":false,"title":null}}
}}
],
"resolve":{"axis":{"x":"independent","y":"independent"}}
}
